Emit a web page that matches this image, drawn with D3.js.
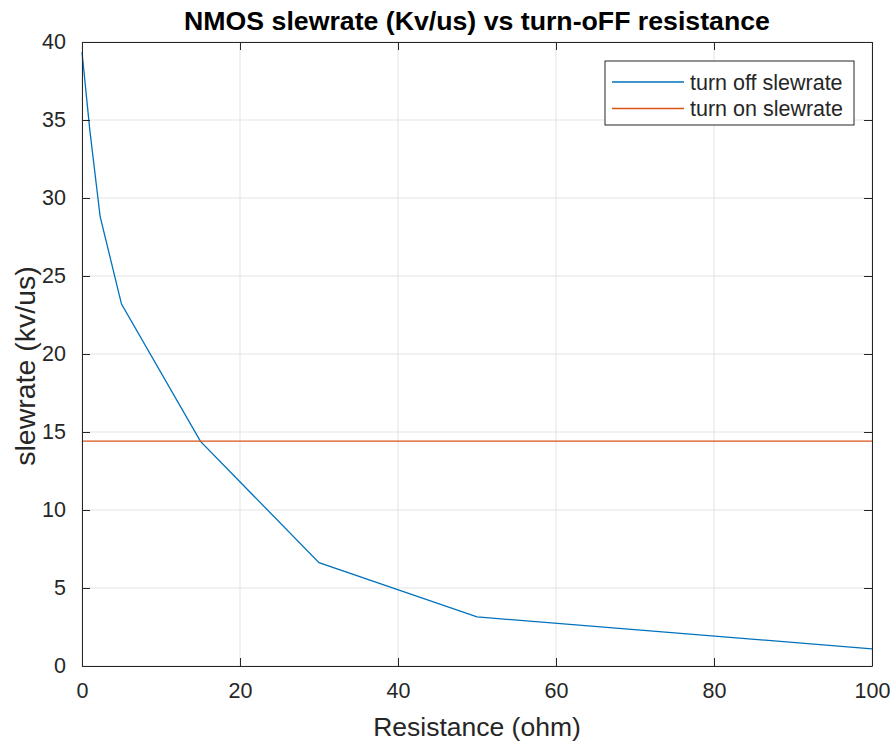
<!DOCTYPE html>
<html>
<head>
<meta charset="utf-8">
<script src="https://cdn.jsdelivr.net/npm/d3@7"></script>
<style>
  body { margin: 0; background: #fff; }
  text { font-family: "Liberation Sans", Arial, Helvetica, sans-serif; fill: #262626; }
</style>
</head>
<body>
<div id="chart"></div>
<script>
// values
const resistance = [0, 1, 2.3, 5, 15, 30, 50, 100];
const turnOffSlew = [39.35, 34.3, 28.8, 23.2, 14.4, 6.62, 3.15, 1.1];
const turnOnSlew = 14.42;
const xTicks = [0, 20, 40, 60, 80, 100];
const yTicks = [0, 5, 10, 15, 20, 25, 30, 35, 40];
const seriesNames = ['turn off slewrate', 'turn on slewrate'];
const seriesColors = ['#0072BD', '#D95319'];

const width = 893, height = 745;
const margin = { top: 42, right: 21, bottom: 79, left: 82 };
const axisColor = '#262626';

const svg = d3.select('#chart').append('svg')
  .attr('width', width)
  .attr('height', height);

const x = d3.scaleLinear().domain([0, 100]).range([margin.left, width - margin.right]);
const y = d3.scaleLinear().domain([0, 40]).range([height - margin.bottom, margin.top]);

const [x0, x1] = x.range();
const [y0, y1] = y.range(); // y0 bottom, y1 top

// grid
const grid = svg.append('g').attr('stroke', '#e3e3e3').attr('stroke-width', 1);
xTicks.forEach(t => grid.append('line')
  .attr('x1', x(t)).attr('x2', x(t)).attr('y1', y1).attr('y2', y0));
yTicks.forEach(t => grid.append('line')
  .attr('x1', x0).attr('x2', x1).attr('y1', y(t)).attr('y2', y(t)));

// data
const line = d3.line().x((d, i) => x(resistance[i])).y(d => y(d));
svg.append('path')
  .datum(turnOffSlew)
  .attr('d', line)
  .attr('fill', 'none')
  .attr('stroke', seriesColors[0])
  .attr('stroke-width', 1.3);

svg.append('line')
  .attr('x1', x(0)).attr('x2', x(100))
  .attr('y1', y(turnOnSlew)).attr('y2', y(turnOnSlew))
  .attr('stroke', seriesColors[1])
  .attr('stroke-width', 1.3);

// axes (MATLAB style, box on, ticks inward)
const tickLen = 8;
const bottomAxis = d3.axisBottom(x).tickValues(xTicks).tickSizeInner(-tickLen).tickSizeOuter(0).tickPadding(17);
const leftAxis = d3.axisLeft(y).tickValues(yTicks).tickSizeInner(-tickLen).tickSizeOuter(0).tickPadding(16);
const topAxis = d3.axisTop(x).tickValues(xTicks).tickSizeInner(-tickLen).tickSizeOuter(0).tickFormat('');
const rightAxis = d3.axisRight(y).tickValues(yTicks).tickSizeInner(-tickLen).tickSizeOuter(0).tickFormat('');

function styleAxis(g) {
  g.selectAll('path, line').attr('stroke', axisColor).attr('stroke-width', 1);
  g.selectAll('text').attr('fill', axisColor).style('font-size', '21.5px');
}

svg.append('g').attr('transform', `translate(0,${y0})`).call(bottomAxis).call(styleAxis);
svg.append('g').attr('transform', `translate(${x0},0)`).call(leftAxis).call(styleAxis);
svg.append('g').attr('transform', `translate(0,${y1})`).call(topAxis).call(styleAxis);
svg.append('g').attr('transform', `translate(${x1},0)`).call(rightAxis).call(styleAxis);
svg.selectAll('.domain').attr('stroke', axisColor);

// title and labels
svg.append('text')
  .attr('x', (x0 + x1) / 2)
  .attr('y', 30)
  .attr('text-anchor', 'middle')
  .style('font-size', '26.7px')
  .style('font-weight', 'bold')
  .style('fill', '#000')
  .text('NMOS slewrate (Kv/us) vs turn-oFF resistance');

svg.append('text')
  .attr('x', (x0 + x1) / 2)
  .attr('y', 736)
  .attr('text-anchor', 'middle')
  .style('font-size', '26.5px')
  .text('Resistance (ohm)');

svg.append('text')
  .attr('transform', 'translate(35,366) rotate(-90)')
  .attr('text-anchor', 'middle')
  .style('font-size', '28.5px')
  .text('slewrate (kv/us)');

// legend
const legend = svg.append('g').attr('transform', 'translate(605,61)');
legend.append('rect')
  .attr('width', 249).attr('height', 64)
  .attr('fill', '#fff')
  .attr('stroke', axisColor)
  .attr('stroke-width', 1);
seriesNames.forEach((name, i) => {
  const ly = 21 + i * 26.5;
  legend.append('line')
    .attr('x1', 7).attr('x2', 79)
    .attr('y1', ly).attr('y2', ly)
    .attr('stroke', seriesColors[i])
    .attr('stroke-width', 1.3);
  legend.append('text')
    .attr('x', 85)
    .attr('y', ly)
    .attr('dy', '0.35em')
    .style('font-size', '21.5px')
    .text(name);
});
</script>
</body>
</html>
